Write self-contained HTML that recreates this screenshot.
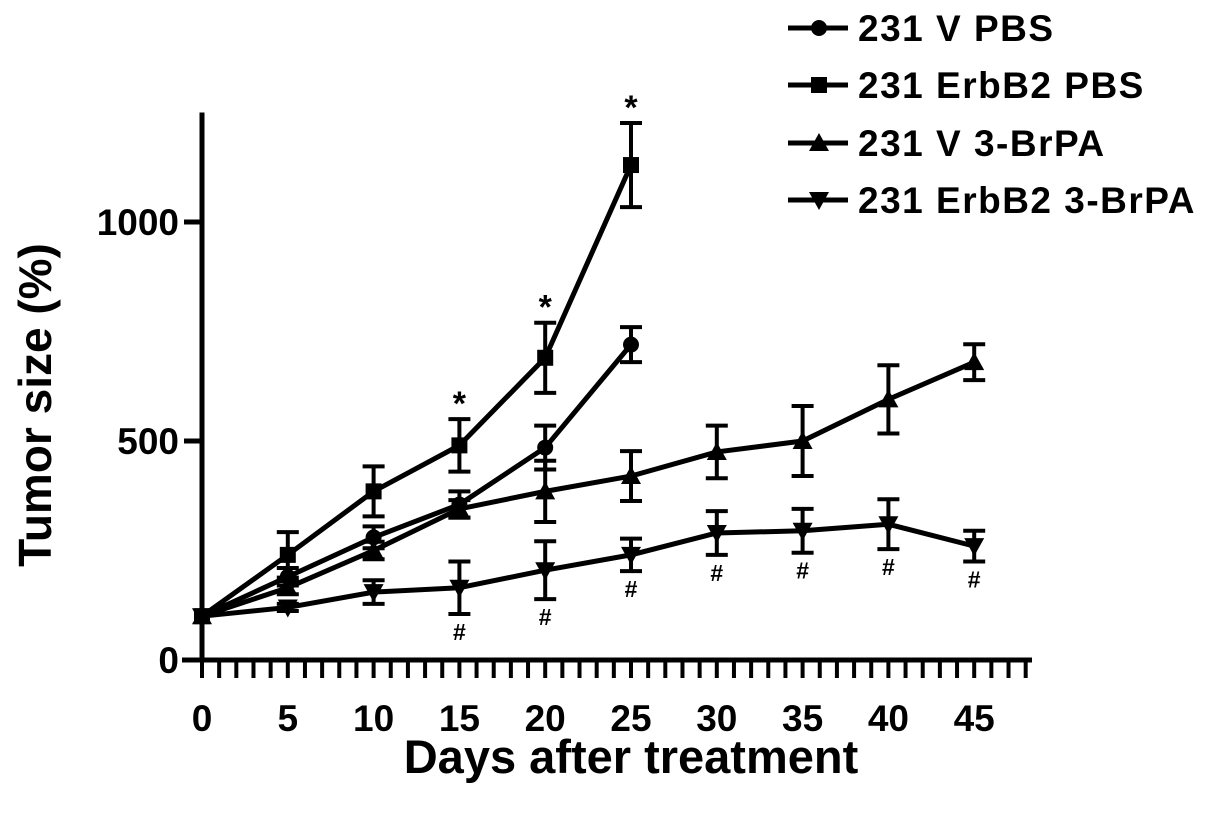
<!DOCTYPE html>
<html><head><meta charset="utf-8"><style>
html,body{margin:0;padding:0;background:#fff;}
svg text{font-family:"Liberation Sans",Arial,sans-serif;font-weight:bold;fill:#000;}
</style></head><body>
<svg id="chart" width="1205" height="822" viewBox="0 0 1205 822" xmlns="http://www.w3.org/2000/svg">
<g id="axes"></g><g id="series"></g><g id="legend"></g>
<text x="0" y="0" font-size="46" text-anchor="middle" transform="translate(51 405) rotate(-90)">Tumor size (%)</text>
<text x="631" y="773" font-size="47" text-anchor="middle">Days after treatment</text>
</svg>
<script>
const seriesNames=["231 V PBS","231 ErbB2 PBS","231 V 3-BrPA","231 ErbB2 3-BrPA"];
const markers=["circle","square","triangle","down"];
const daysA=[0,5,10,15,20,25];
const daysB=[0,5,10,15,20,25,30,35,40,45];
const vPbs=[100,190,280,355,485,720];
const vPbsErr=[0,20,25,30,50,40];
const erbPbs=[100,240,385,490,690,1130];
const erbPbsErr=[0,52,57,60,80,96];
const vBr=[100,165,250,345,385,420,475,500,595,680];
const vBrErr=[0,15,20,20,70,57,60,80,78,41];
const erbBr=[100,120,155,165,205,240,290,295,310,260];
const erbBrErr=[0,8,27,60,66,37,50,50,57,35];
const starDays=[15,20,25];
const hashDays=[15,20,25,30,35,40,45];
const xTicks=[0,5,10,15,20,25,30,35,40,45];
const yTicks=[0,500,1000];

const NS="http://www.w3.org/2000/svg";
const X=d=>202+d*17.16;
const Y=v=>660-v*0.438;
function mk(tag,attrs,parent){const e=document.createElementNS(NS,tag);for(const k in attrs)e.setAttribute(k,attrs[k]);parent.appendChild(e);return e;}
const axes=document.getElementById('axes'),ser=document.getElementById('series'),leg=document.getElementById('legend');

let a=mk('line',{x1:202,y1:Y(1250),x2:202,y2:662,stroke:'#000','stroke-width':5},axes);


a=mk('line',{x1:182,y1:660,x2:1032,y2:660,stroke:'#000','stroke-width':5},axes);


for(let d=0;d<=48;d++){const t=mk('line',{x1:X(d),y1:660,x2:X(d),y2:678,stroke:'#000','stroke-width':4},axes);

}
xTicks.forEach(d=>{const t=mk('text',{x:X(d),y:731,'font-size':37,'text-anchor':'middle'},axes);t.textContent=d;

});
yTicks.forEach(v=>{const l=mk('line',{x1:184,y1:Y(v),x2:202,y2:Y(v),stroke:'#000','stroke-width':5},axes);


const t=mk('text',{x:179,y:Y(v)+13,'font-size':37,'text-anchor':'end'},axes);t.textContent=v;

});

function marker(type,x,y,p){let e;
if(type==='circle')e=mk('circle',{cx:x,cy:y,r:8,fill:'#000'},p);
else if(type==='square')e=mk('rect',{x:x-8,y:y-8,width:16,height:16,fill:'#000'},p);
else if(type==='triangle')e=mk('polygon',{points:`${x},${y-10} ${x-10},${y+8} ${x+10},${y+8}`,fill:'#000'},p);
else e=mk('polygon',{points:`${x},${y+10} ${x-10},${y-8} ${x+10},${y-8}`,fill:'#000'},p);
return e;}
function drawSeries(name,days,vals,errs,type){
const g=mk('g',{},ser);


days.forEach((d,i)=>{if(!errs[i])return;const x=X(d);
mk('line',{x1:x,y1:Y(vals[i]+errs[i]),x2:x,y2:Y(vals[i]-errs[i]),stroke:'#000','stroke-width':4},g);
mk('line',{x1:x-11,y1:Y(vals[i]+errs[i]),x2:x+11,y2:Y(vals[i]+errs[i]),stroke:'#000','stroke-width':4},g);
mk('line',{x1:x-11,y1:Y(vals[i]-errs[i]),x2:x+11,y2:Y(vals[i]-errs[i]),stroke:'#000','stroke-width':4},g);});
mk('polyline',{points:days.map((d,i)=>X(d)+','+Y(vals[i])).join(' '),fill:'none',stroke:'#000','stroke-width':5,'stroke-linejoin':'round'},g);
days.forEach((d,i)=>{const m=marker(type,X(d),Y(vals[i]),g);

});}
drawSeries('series-231-v-3brpa',daysB,vBr,vBrErr,'triangle');
drawSeries('series-231-erbb2-3brpa',daysB,erbBr,erbBrErr,'down');
drawSeries('series-231-v-pbs',daysA,vPbs,vPbsErr,'circle');
drawSeries('series-231-erbb2-pbs',daysA,erbPbs,erbPbsErr,'square');

starDays.forEach(d=>{const i=daysA.indexOf(d);const t=mk('text',{x:X(d),y:Y(erbPbs[i]+erbPbsErr[i])-4,'font-size':34,'font-weight':'normal','text-anchor':'middle'},ser);t.textContent='*';

});
hashDays.forEach(d=>{const i=daysB.indexOf(d);const t=mk('text',{x:X(d),y:Y(erbBr[i]-erbBrErr[i])+26,'font-size':23,'font-weight':'normal','text-anchor':'middle'},ser);t.textContent='#';

});

const legendY=[28,85,143,200];
seriesNames.forEach((n,i)=>{const y=legendY[i];const g=mk('g',{},leg);


mk('line',{x1:788,y1:y,x2:848,y2:y,stroke:'#000','stroke-width':5},g);
marker(markers[i],819,y,g);
const t=mk('text',{x:858,y:y+13,'font-size':37,'letter-spacing':1.5},g);t.textContent=n;});
</script>
</body></html>
